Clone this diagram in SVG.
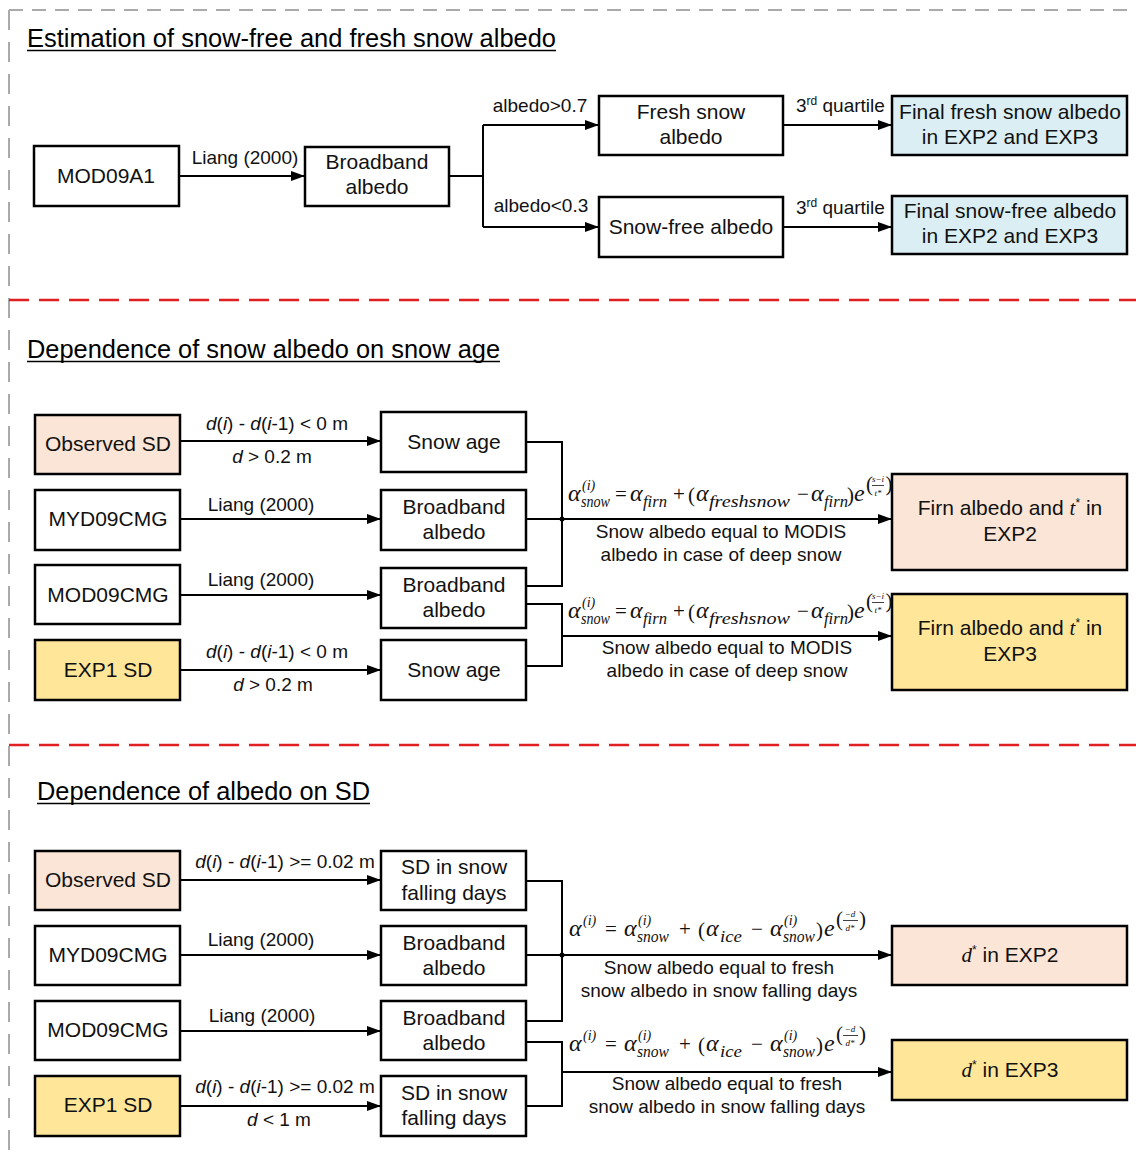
<svg xmlns="http://www.w3.org/2000/svg" width="1136" height="1157" viewBox="0 0 1136 1157">
<defs>
<marker id="ah" viewBox="0 0 14 10" refX="14" refY="5" markerWidth="14" markerHeight="10" markerUnits="userSpaceOnUse" orient="auto">
<path d="M0,0 L14,5 L0,10 z" fill="#000"/>
</marker>
<style>
.box{stroke:#000;stroke-width:2.5;fill:#fff}
.peach{fill:#fbe5d6}
.yel{fill:#ffe699}
.blue{fill:#daeef3}
.bx{font-family:"Liberation Sans",Arial,sans-serif;font-size:21px;text-anchor:middle;fill:#111}
.lb{font-family:"Liberation Sans",Arial,sans-serif;font-size:19px;fill:#111}
.mid{text-anchor:middle}
.ttl{font-family:"Liberation Sans",Arial,sans-serif;font-size:25px;fill:#000}
.ul{stroke:#000;stroke-width:1.5}
.con{fill:none;stroke:#000;stroke-width:2}
.arr{fill:none;stroke:#000;stroke-width:2;marker-end:url(#ah)}
.fm{font-family:"Liberation Serif","Times New Roman",serif;font-style:italic;font-size:24px;fill:#111}
.up{font-family:"Liberation Serif","Times New Roman",serif;font-style:normal;font-size:21px;fill:#111}
.sb{font-family:"Liberation Serif","Times New Roman",serif;font-style:italic;font-size:16px;fill:#111}
.sp{font-family:"Liberation Serif","Times New Roman",serif;font-style:italic;font-size:14px;fill:#111}
.fr{font-family:"Liberation Serif","Times New Roman",serif;font-style:italic;font-size:9px;fill:#111;text-anchor:middle}
.it{font-style:italic}
</style>
</defs>
<g id="frame">
<path d="M9,10 H1136" stroke="#aaaaaa" stroke-width="2" stroke-dasharray="14,9" fill="none"/>
<path d="M9,10 V1157" stroke="#aaaaaa" stroke-width="2" stroke-dasharray="20,12" fill="none"/>
<path d="M9,300 H1136" stroke="#e02020" stroke-width="2.5" stroke-dasharray="20,10" fill="none"/>
<path d="M9,745 H1136" stroke="#e02020" stroke-width="2.5" stroke-dasharray="20,10" fill="none"/>
</g>
<g id="titles">
<text class="ttl" x="27" y="47" textLength="529" lengthAdjust="spacingAndGlyphs">Estimation of snow-free and fresh snow albedo</text>
<line class="ul" x1="27" y1="50.5" x2="556" y2="50.5"/>
<text class="ttl" x="27" y="358" textLength="473" lengthAdjust="spacingAndGlyphs">Dependence of snow albedo on snow age</text>
<line class="ul" x1="27" y1="361.5" x2="500" y2="361.5"/>
<text class="ttl" x="37" y="800" textLength="333" lengthAdjust="spacingAndGlyphs">Dependence of albedo on SD</text>
<line class="ul" x1="37" y1="803.5" x2="370" y2="803.5"/>
</g>

<!-- Section 1 nodes -->
<g id="n-mod09a1"><rect class="box" x="34" y="146" width="145" height="60"/><text class="bx" x="106" y="183">MOD09A1</text></g>
<g id="n-bb0"><rect class="box" x="305" y="147" width="144" height="59"/><text class="bx" x="377" y="169">Broadband</text><text class="bx" x="377" y="194">albedo</text></g>
<g id="n-fresh"><rect class="box" x="599" y="96" width="184" height="59"/><text class="bx" x="691" y="119">Fresh snow</text><text class="bx" x="691" y="144">albedo</text></g>
<g id="n-free"><rect class="box" x="599" y="197" width="184" height="60"/><text class="bx" x="691" y="234">Snow-free albedo</text></g>
<g id="n-finalfresh"><rect class="box blue" x="892" y="96" width="235" height="59"/><text class="bx" x="1010" y="119">Final fresh snow albedo</text><text class="bx" x="1010" y="144">in EXP2 and EXP3</text></g>
<g id="n-finalfree"><rect class="box blue" x="892" y="196" width="235" height="58"/><text class="bx" x="1010" y="218">Final snow-free albedo</text><text class="bx" x="1010" y="243">in EXP2 and EXP3</text></g>

<!-- Section 2 nodes -->
<g id="n-obs1"><rect class="box peach" x="35" y="415" width="145" height="59"/><text class="bx" x="108" y="451">Observed SD</text></g>
<g id="n-age1"><rect class="box" x="381" y="412" width="145" height="60"/><text class="bx" x="454" y="449">Snow age</text></g>
<g id="n-myd1"><rect class="box" x="35" y="490" width="145" height="60"/><text class="bx" x="108" y="526">MYD09CMG</text></g>
<g id="n-bb1"><rect class="box" x="381" y="490" width="145" height="60"/><text class="bx" x="454" y="514">Broadband</text><text class="bx" x="454" y="539">albedo</text></g>
<g id="n-mod1"><rect class="box" x="35" y="565" width="145" height="59"/><text class="bx" x="108" y="602">MOD09CMG</text></g>
<g id="n-bb2"><rect class="box" x="381" y="568" width="145" height="60"/><text class="bx" x="454" y="592">Broadband</text><text class="bx" x="454" y="617">albedo</text></g>
<g id="n-exp1a"><rect class="box yel" x="35" y="640" width="145" height="60"/><text class="bx" x="108" y="677">EXP1 SD</text></g>
<g id="n-age2"><rect class="box" x="381" y="640" width="145" height="60"/><text class="bx" x="454" y="677">Snow age</text></g>
<g id="n-firn2"><rect class="box peach" x="892" y="474" width="235" height="96"/><text class="bx" x="1010" y="515">Firn albedo and <tspan class="it" font-family="Liberation Serif">t</tspan><tspan font-size="12" dy="-8">*</tspan><tspan dy="8"> in</tspan></text><text class="bx" x="1010" y="541">EXP2</text></g>
<g id="n-firn3"><rect class="box yel" x="892" y="594" width="235" height="96"/><text class="bx" x="1010" y="635">Firn albedo and <tspan class="it" font-family="Liberation Serif">t</tspan><tspan font-size="12" dy="-8">*</tspan><tspan dy="8"> in</tspan></text><text class="bx" x="1010" y="661">EXP3</text></g>

<!-- Section 3 nodes -->
<g id="n-obs2"><rect class="box peach" x="35" y="851" width="145" height="59"/><text class="bx" x="108" y="887">Observed SD</text></g>
<g id="n-sdf1"><rect class="box" x="381" y="851" width="145" height="59"/><text class="bx" x="454" y="874">SD in snow</text><text class="bx" x="454" y="900">falling days</text></g>
<g id="n-myd2"><rect class="box" x="35" y="926" width="145" height="59"/><text class="bx" x="108" y="962">MYD09CMG</text></g>
<g id="n-bb3"><rect class="box" x="381" y="926" width="145" height="59"/><text class="bx" x="454" y="950">Broadband</text><text class="bx" x="454" y="975">albedo</text></g>
<g id="n-mod2"><rect class="box" x="35" y="1001" width="145" height="59"/><text class="bx" x="108" y="1037">MOD09CMG</text></g>
<g id="n-bb4"><rect class="box" x="381" y="1001" width="145" height="59"/><text class="bx" x="454" y="1025">Broadband</text><text class="bx" x="454" y="1050">albedo</text></g>
<g id="n-exp1b"><rect class="box yel" x="35" y="1076" width="145" height="60"/><text class="bx" x="108" y="1112">EXP1 SD</text></g>
<g id="n-sdf2"><rect class="box" x="381" y="1076" width="145" height="60"/><text class="bx" x="454" y="1100">SD in snow</text><text class="bx" x="454" y="1125">falling days</text></g>
<g id="n-d2"><rect class="box peach" x="892" y="926" width="235" height="59"/><text class="bx" x="1010" y="962"><tspan class="it" font-family="Liberation Serif">d</tspan><tspan font-size="12" dy="-8">*</tspan><tspan dy="8"> in EXP2</tspan></text></g>
<g id="n-d3"><rect class="box yel" x="892" y="1040" width="235" height="60"/><text class="bx" x="1010" y="1077"><tspan class="it" font-family="Liberation Serif">d</tspan><tspan font-size="12" dy="-8">*</tspan><tspan dy="8"> in EXP3</tspan></text></g>

<g id="connectors">
<path class="arr" d="M179,176 H305"/>
<path class="con" d="M449,176 H483 M483,125 V227"/>
<path class="arr" d="M483,125 H599"/>
<path class="arr" d="M483,227 H599"/>
<path class="arr" d="M783,125 H892"/>
<path class="arr" d="M783,227 H892"/>
<path class="arr" d="M180,441 H381"/>
<path class="arr" d="M180,519 H381"/>
<path class="arr" d="M180,595 H381"/>
<path class="arr" d="M180,670 H381"/>
<path class="con" d="M526,442 H562 V586 H526"/>
<path class="arr" d="M526,519 H892"/>
<circle cx="562" cy="519" r="2.5" fill="#000"/>
<path class="con" d="M526,604 H562 V666 H526"/>
<path class="arr" d="M562,636 H892"/>
<path class="arr" d="M180,880 H381"/>
<path class="arr" d="M180,955 H381"/>
<path class="arr" d="M180,1031 H381"/>
<path class="arr" d="M180,1106 H381"/>
<path class="con" d="M526,881 H562 V1021 H526"/>
<path class="arr" d="M526,955 H892"/>
<circle cx="562" cy="955" r="2.5" fill="#000"/>
<path class="con" d="M526,1042 H562 V1106 H526"/>
<path class="arr" d="M562,1072 H892"/>
</g>

<g id="labels">
<text class="lb mid" x="245" y="164">Liang (2000)</text>
<text class="lb mid" x="540" y="112">albedo&gt;0.7</text>
<text class="lb mid" x="541" y="212">albedo&lt;0.3</text>
<text class="lb" x="796" y="112">3<tspan font-size="12" dy="-7">rd</tspan><tspan dy="7"> quartile</tspan></text>
<text class="lb" x="796" y="214">3<tspan font-size="12" dy="-7">rd</tspan><tspan dy="7"> quartile</tspan></text>

<text class="lb mid" x="277" y="430"><tspan class="it">d</tspan>(<tspan class="it">i</tspan>) - <tspan class="it">d</tspan>(<tspan class="it">i</tspan>-1) &lt; 0 m</text>
<text class="lb mid" x="272" y="463"><tspan class="it">d</tspan> &gt; 0.2 m</text>
<text class="lb mid" x="261" y="511">Liang (2000)</text>
<text class="lb mid" x="261" y="586">Liang (2000)</text>
<text class="lb mid" x="277" y="658"><tspan class="it">d</tspan>(<tspan class="it">i</tspan>) - <tspan class="it">d</tspan>(<tspan class="it">i</tspan>-1) &lt; 0 m</text>
<text class="lb mid" x="273" y="691"><tspan class="it">d</tspan> &gt; 0.2 m</text>

<text class="lb mid" x="721" y="538">Snow albedo equal to MODIS</text>
<text class="lb mid" x="721" y="561">albedo in case of deep snow</text>
<text class="lb mid" x="727" y="654">Snow albedo equal to MODIS</text>
<text class="lb mid" x="727" y="677">albedo in case of deep snow</text>

<text class="lb mid" x="285" y="868"><tspan class="it">d</tspan>(<tspan class="it">i</tspan>) - <tspan class="it">d</tspan>(<tspan class="it">i</tspan>-1) &gt;= 0.02 m</text>
<text class="lb mid" x="261" y="946">Liang (2000)</text>
<text class="lb mid" x="262" y="1022">Liang (2000)</text>
<text class="lb mid" x="285" y="1093"><tspan class="it">d</tspan>(<tspan class="it">i</tspan>) - <tspan class="it">d</tspan>(<tspan class="it">i</tspan>-1) &gt;= 0.02 m</text>
<text class="lb mid" x="279" y="1126"><tspan class="it">d</tspan> &lt; 1 m</text>

<text class="lb mid" x="719" y="974">Snow albedo equal to fresh</text>
<text class="lb mid" x="719" y="997">snow albedo in snow falling days</text>
<text class="lb mid" x="727" y="1090">Snow albedo equal to fresh</text>
<text class="lb mid" x="727" y="1113">snow albedo in snow falling days</text>
</g>

<g id="formula-a1">
<text class="fm" x="568" y="501">α</text>
<text class="sp" x="582" y="490">(i)</text>
<text class="sb" x="581" y="507" textLength="29" lengthAdjust="spacingAndGlyphs">snow</text>
<text class="up" x="615" y="501">=</text>
<text class="fm" x="630" y="501">α</text>
<text class="sb" x="643" y="507" textLength="24" lengthAdjust="spacingAndGlyphs">firn</text>
<text class="up" x="673" y="501">+</text>
<text class="up" x="688" y="502" font-size="24">(</text>
<text class="fm" x="696" y="501">α</text>
<text class="sb" x="709" y="507" textLength="81" lengthAdjust="spacingAndGlyphs">freshsnow</text>
<text class="up" x="797" y="501">−</text>
<text class="fm" x="811" y="501">α</text>
<text class="sb" x="824" y="507" textLength="24" lengthAdjust="spacingAndGlyphs">firn</text>
<text class="up" x="847" y="502" font-size="24">)</text>
<text class="fm" x="854" y="501">e</text>
<text class="up" x="866" y="491" font-size="14">(</text>
<text class="fr" x="878" y="482">s−i</text>
<line x1="872" y1="485.5" x2="884" y2="485.5" stroke="#111" stroke-width="0.8"/>
<text class="fr" x="878" y="496">t*</text>
<text class="up" x="885.5" y="491" font-size="14">)</text>
</g>
<g id="formula-a2" transform="translate(0,117)">
<text class="fm" x="568" y="501">α</text>
<text class="sp" x="582" y="490">(i)</text>
<text class="sb" x="581" y="507" textLength="29" lengthAdjust="spacingAndGlyphs">snow</text>
<text class="up" x="615" y="501">=</text>
<text class="fm" x="630" y="501">α</text>
<text class="sb" x="643" y="507" textLength="24" lengthAdjust="spacingAndGlyphs">firn</text>
<text class="up" x="673" y="501">+</text>
<text class="up" x="688" y="502" font-size="24">(</text>
<text class="fm" x="696" y="501">α</text>
<text class="sb" x="709" y="507" textLength="81" lengthAdjust="spacingAndGlyphs">freshsnow</text>
<text class="up" x="797" y="501">−</text>
<text class="fm" x="811" y="501">α</text>
<text class="sb" x="824" y="507" textLength="24" lengthAdjust="spacingAndGlyphs">firn</text>
<text class="up" x="847" y="502" font-size="24">)</text>
<text class="fm" x="854" y="501">e</text>
<text class="up" x="866" y="491" font-size="14">(</text>
<text class="fr" x="878" y="482">s−i</text>
<line x1="872" y1="485.5" x2="884" y2="485.5" stroke="#111" stroke-width="0.8"/>
<text class="fr" x="878" y="496">t*</text>
<text class="up" x="885.5" y="491" font-size="14">)</text>
</g>

<g id="formula-b1">
<text class="fm" x="569" y="936">α</text>
<text class="sp" x="583" y="925">(i)</text>
<text class="up" x="605" y="936">=</text>
<text class="fm" x="624" y="936">α</text>
<text class="sp" x="638" y="925">(i)</text>
<text class="sb" x="637" y="942" textLength="32" lengthAdjust="spacingAndGlyphs">snow</text>
<text class="up" x="679" y="936">+</text>
<text class="up" x="698" y="937" font-size="23">(</text>
<text class="fm" x="706" y="936">α</text>
<text class="sb" x="720" y="942" textLength="22" lengthAdjust="spacingAndGlyphs">ice</text>
<text class="up" x="751" y="936">−</text>
<text class="fm" x="770" y="936">α</text>
<text class="sp" x="784" y="925">(i)</text>
<text class="sb" x="783" y="942" textLength="32" lengthAdjust="spacingAndGlyphs">snow</text>
<text class="up" x="816" y="937" font-size="23">)</text>
<text class="fm" x="824" y="936">e</text>
<text class="up" x="836" y="926" font-size="16">(</text>
<text class="fr" x="850" y="917">−d</text>
<line x1="843" y1="920.5" x2="858" y2="920.5" stroke="#111" stroke-width="0.8"/>
<text class="fr" x="850" y="931">d*</text>
<text class="up" x="859" y="926" font-size="16">)</text>
</g>
<g id="formula-b2" transform="translate(0,115)">
<text class="fm" x="569" y="936">α</text>
<text class="sp" x="583" y="925">(i)</text>
<text class="up" x="605" y="936">=</text>
<text class="fm" x="624" y="936">α</text>
<text class="sp" x="638" y="925">(i)</text>
<text class="sb" x="637" y="942" textLength="32" lengthAdjust="spacingAndGlyphs">snow</text>
<text class="up" x="679" y="936">+</text>
<text class="up" x="698" y="937" font-size="23">(</text>
<text class="fm" x="706" y="936">α</text>
<text class="sb" x="720" y="942" textLength="22" lengthAdjust="spacingAndGlyphs">ice</text>
<text class="up" x="751" y="936">−</text>
<text class="fm" x="770" y="936">α</text>
<text class="sp" x="784" y="925">(i)</text>
<text class="sb" x="783" y="942" textLength="32" lengthAdjust="spacingAndGlyphs">snow</text>
<text class="up" x="816" y="937" font-size="23">)</text>
<text class="fm" x="824" y="936">e</text>
<text class="up" x="836" y="926" font-size="16">(</text>
<text class="fr" x="850" y="917">−d</text>
<line x1="843" y1="920.5" x2="858" y2="920.5" stroke="#111" stroke-width="0.8"/>
<text class="fr" x="850" y="931">d*</text>
<text class="up" x="859" y="926" font-size="16">)</text>
</g>
</svg>
